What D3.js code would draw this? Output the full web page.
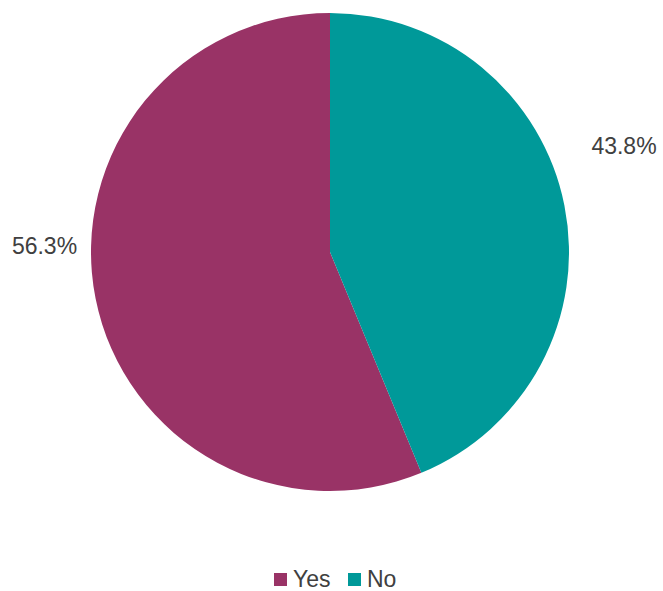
<!DOCTYPE html>
<html>
<head>
<meta charset="utf-8">
<script src="https://cdn.jsdelivr.net/npm/d3@7"></script>
<style>
body { margin: 0; background: #fff; }
text { font-family: "Liberation Sans", Arial, sans-serif; fill: #404040; }
</style>
</head>
<body>
<script>
//Width and height
const w = 663;
const h = 591;

//Data
var categories = ["Yes", "No"];
var values = [56.3, 43.8];
var labels = ["56.3%", "43.8%"];
var colors = ["#993366", "#009999"];

var cx = 330, cy = 252, r = 239;

var svg = d3.select("body")
			.append("svg")
			.attr("width", w)
			.attr("height", h);

//No starts at 12 o'clock, so Yes starts where No ends
var start = values[1] / d3.sum(values) * 2 * Math.PI;

var pie = d3.pie()
			.sort(null)
			.startAngle(start)
			.endAngle(start + 2 * Math.PI);

var arcs = pie(values);

var arc = d3.arc().innerRadius(0).outerRadius(r);

var g = svg.append("g").attr("transform", "translate(" + cx + "," + cy + ")");

g.selectAll("path")
	.data(arcs)
	.enter()
	.append("path")
	.attr("d", arc)
	.attr("fill", function(d, i) { return colors[i]; });

//Labels outside the pie
g.selectAll("text.lbl")
	.data(arcs)
	.enter()
	.append("text")
	.attr("class", "lbl")
	.attr("text-anchor", "middle")
	.attr("font-size", 23)
	.attr("x", function(d, i) { return i == 0 ? 44.5 - cx : 624 - cx; })
	.attr("y", function(d, i) { return i == 0 ? 254 - cy : 154 - cy; })
	.text(function(d, i) { return labels[i]; });

//Legend
var legend = svg.append("g").attr("transform", "translate(274,573)");
var offsets = [0, 74];
categories.forEach(function(c, i) {
	legend.append("rect")
		.attr("x", offsets[i])
		.attr("y", 0)
		.attr("width", 13)
		.attr("height", 13)
		.attr("fill", colors[i]);
	legend.append("text")
		.attr("x", offsets[i] + 19)
		.attr("y", 14)
		.attr("font-size", 23)
		.text(c);
});
</script>
</body>
</html>
